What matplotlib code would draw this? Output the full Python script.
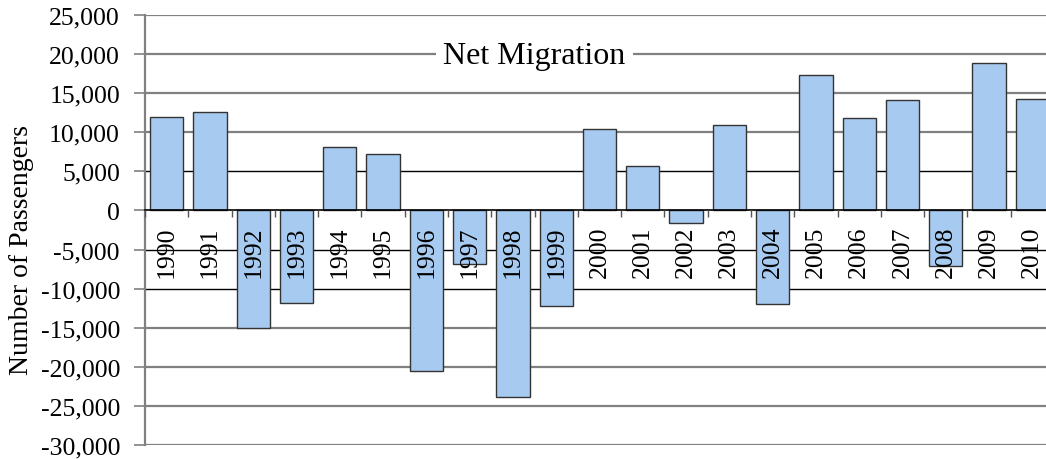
import matplotlib
matplotlib.use("Agg")
import matplotlib.pyplot as plt
import numpy as np
from matplotlib.ticker import FuncFormatter, FixedLocator

years = [str(y) for y in range(1990, 2011)]
net_migration = [11900, 12600, -15000, -11850, 8100, 7200, -20500, -6900, -23800, -12200,
                 10450, 5700, -1650, 10900, -12000, 17350, 11850, 14150, -7100, 18800, 14300]
y_ticks = list(range(-30000, 25001, 5000))
title_text = "Net Migration"
y_label = "Number of Passengers"

plt.rcParams['font.family'] = ['Liberation Serif', 'DejaVu Serif']

fig = plt.figure(figsize=(10.46, 4.6), dpi=100)
ax = fig.add_axes([145/1046, 14/460, 909/1046, 430/460])

x = np.arange(len(years))
ax.bar(x, net_migration, width=0.77, color='#A7CAF0', edgecolor='#333333', linewidth=1.0, zorder=2)

for v in y_ticks:
    if v == 0:
        continue
    if v in (5000, -5000, -10000):
        ax.axhline(v, color='black', linewidth=1.0, zorder=0)
    else:
        ax.axhline(v, color='#808080', linewidth=1.6, zorder=0)

ax.set_xlim(-0.5, len(years) - 0.5)
ax.set_ylim(-30000, 25000)
ax.set_yticks(y_ticks)
ax.yaxis.set_major_formatter(FuncFormatter(lambda v, p: f"{int(v):,}"))
ax.tick_params(axis='y', direction='out', length=8, width=1.2, color='#808080',
               labelsize=18.5, pad=10)

ax.spines['bottom'].set_position(('data', 0))
ax.spines['bottom'].set_color('black')
ax.spines['bottom'].set_linewidth(1.2)
ax.spines['left'].set_color('#808080')
ax.spines['left'].set_linewidth(1.6)
ax.spines['top'].set_visible(False)
ax.spines['right'].set_visible(False)

ax.set_xticks(x)
ax.set_xticklabels(years, rotation=90, fontsize=18.5)
ax.tick_params(axis='x', which='major', length=0, pad=11, labelcolor='black')
ax.xaxis.set_minor_locator(FixedLocator(np.arange(-0.5, len(years), 1.0)))
ax.tick_params(axis='x', which='minor', length=5, width=1.0, color='#555555', direction='out')
for lbl in ax.get_xticklabels():
    lbl.set_va('top')
ax.xaxis.set_zorder(3)

ax.text(8.5, 18900, title_text, ha='center', va='baseline', fontsize=23, zorder=4,
        bbox=dict(facecolor='white', edgecolor='none', pad=5))

fig.text(22/1046, 1 - 250/460, y_label, rotation=90, ha='center', va='center', fontsize=20)

fig.savefig('out.png', dpi=100)
